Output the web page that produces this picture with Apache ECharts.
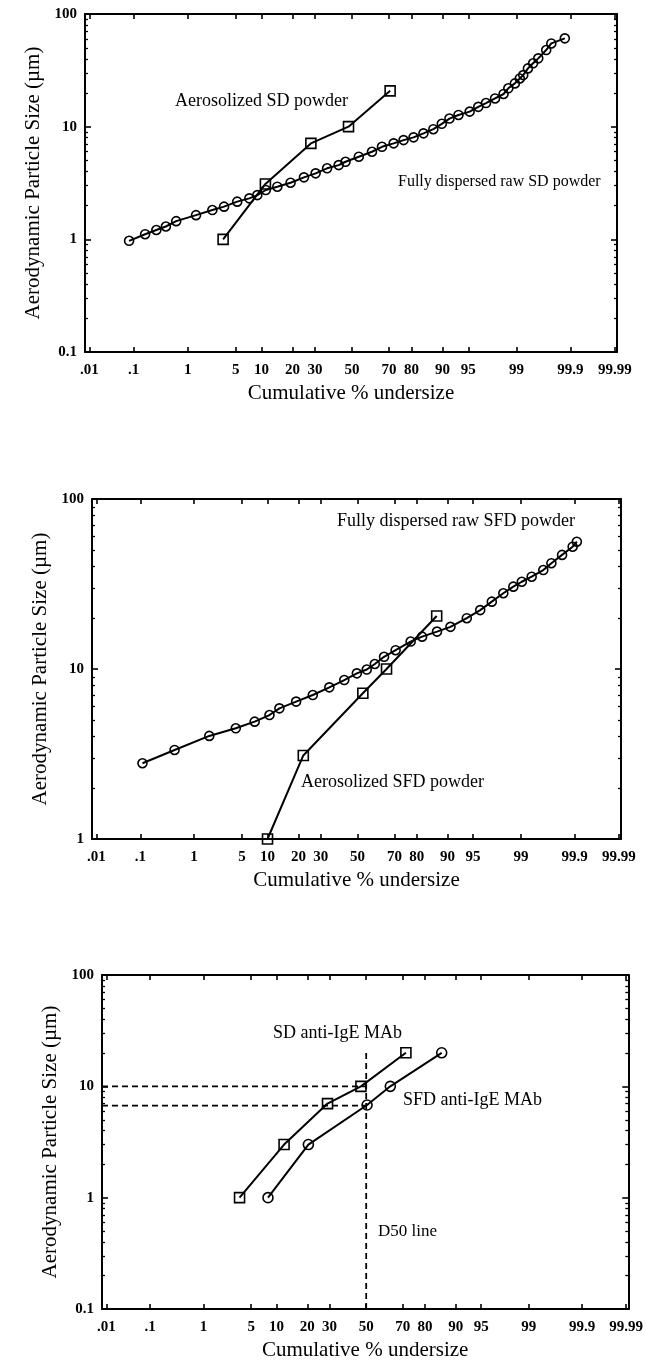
<!DOCTYPE html>
<html><head><meta charset="utf-8">
<script src="https://cdn.jsdelivr.net/npm/echarts@6/dist/echarts.min.js"></script>
<style>html,body{margin:0;padding:0;background:#fff}#c{width:646px;height:1365px}</style>
</head><body><div id="c"></div>
<script>
// ---------- DATA ----------
const xTickPercents = [0.01, 0.1, 1, 5, 10, 20, 30, 50, 70, 80, 90, 95, 99, 99.9, 99.99];
const xTickLabels   = ['.01', '.1', '1', '5', '10', '20', '30', '50', '70', '80', '90', '95', '99', '99.9', '99.99'];
const yTicksPanel1 = [0.1, 1, 10, 100];
const yTicksPanel2 = [1, 10, 100];
const yTicksPanel3 = [0.1, 1, 10, 100];
const yTickLabelText = {'0.1': '0.1', '1': '1', '10': '10', '100': '100'};

// Panel 1 (SD powder)
const sdAeroPct  = [3.4, 11, 28, 48, 70.5];
const sdAeroSize = [1.0, 3.1, 7.1, 10, 20.8];
const sdRawPct  = [0.08, 0.17, 0.28, 0.42, 0.64, 1.36, 2.4, 3.5, 5.2, 7.3, 9.0, 11.1, 14.5, 19.2, 24.8, 30.3, 36.2, 42.5, 46.3, 53.8, 61.1, 66.4, 72.2, 76.7, 80.8, 84.4, 87.5, 89.8, 91.6, 93.4, 95.2, 96.3, 97.1, 97.85, 98.4, 98.65, 98.94, 99.12, 99.23, 99.36, 99.48, 99.58, 99.70, 99.76, 99.87];
const sdRawSize = [0.97, 1.11, 1.21, 1.3, 1.45, 1.64, 1.82, 1.95, 2.16, 2.31, 2.47, 2.74, 2.93, 3.18, 3.55, 3.85, 4.27, 4.56, 4.88, 5.41, 5.99, 6.63, 7.11, 7.6, 8.04, 8.72, 9.5, 10.6, 11.8, 12.7, 13.6, 15.0, 16.2, 17.8, 19.5, 21.9, 24.2, 26.8, 28.7, 32.9, 36.5, 40.4, 47.9, 54.8, 60.8];

// Panel 2 (SFD powder)
const sfdAeroPct  = [10, 22, 53, 66, 87];
const sfdAeroSize = [1.0, 3.1, 7.2, 10, 20.5];
const sfdRawPct  = [0.11, 0.46, 1.74, 4.15, 7.15, 10.5, 13.3, 19.1, 26.2, 34.4, 42.5, 49.6, 55.2, 59.7, 64.7, 70.6, 77.5, 82.1, 87.1, 90.7, 94.0, 95.96, 97.2, 98.1, 98.67, 99.03, 99.34, 99.59, 99.71, 99.82, 99.89, 99.91];
const sfdRawSize = [2.79, 3.34, 4.04, 4.48, 4.9, 5.36, 5.87, 6.43, 7.03, 7.8, 8.61, 9.43, 9.93, 10.7, 11.8, 12.9, 14.5, 15.5, 16.6, 17.7, 19.9, 22.2, 24.9, 27.9, 30.5, 32.6, 34.9, 38.2, 41.9, 46.9, 52.4, 56.1];

// Panel 3 (anti-IgE MAb)
const sdMabPct  = [3.5, 12, 29, 47, 71.5];
const sdMabSize = [1, 3, 7, 10, 20];
const sfdMabPct  = [8, 20.4, 50.5, 63.5, 86];
const sfdMabSize = [1, 3, 6.8, 10, 20];
const d50Pct = 50;
const d50SdSize = 10;
const d50SfdSize = 6.7;
const d50LineTop = 20;
const d50LineBottom = 0.1;

// ---------- SCALES ----------
function probit(p) {
  const a=[-3.969683028665376e+01,2.209460984245205e+02,-2.759285104469687e+02,1.383577518672690e+02,-3.066479806614716e+01,2.506628277459239e+00];
  const b=[-5.447609879822406e+01,1.615858368580409e+02,-1.556989798598866e+02,6.680131188771972e+01,-1.328068155288572e+01];
  const c=[-7.784894002430293e-03,-3.223964580411365e-01,-2.400758277161838e+00,-2.549732539343734e+00,4.374664141464968e+00,2.938163982698783e+00];
  const d=[7.784695709041462e-03,3.224671290700398e-01,2.445134137142996e+00,3.754408661907416e+00];
  const pl=0.02425, ph=1-pl; let q, r;
  if (p < pl) { q=Math.sqrt(-2*Math.log(p)); return (((((c[0]*q+c[1])*q+c[2])*q+c[3])*q+c[4])*q+c[5])/((((d[0]*q+d[1])*q+d[2])*q+d[3])*q+1); }
  if (p <= ph) { q=p-0.5; r=q*q; return (((((a[0]*r+a[1])*r+a[2])*r+a[3])*r+a[4])*r+a[5])*q/(((((b[0]*r+b[1])*r+b[2])*r+b[3])*r+b[4])*r+1); }
  q=Math.sqrt(-2*Math.log(1-p)); return -(((((c[0]*q+c[1])*q+c[2])*q+c[3])*q+c[4])*q+c[5])/((((d[0]*q+d[1])*q+d[2])*q+d[3])*q+1);
}
const px = pct => probit(pct / 100);
const ly = v => Math.log10(v);
const pts = (P, S) => P.map((p, i) => [px(p), ly(S[i])]);

const FONT = '"Liberation Serif","Times New Roman",serif';
const X_MIN = -3.78, X_MAX = 3.75;
const grids = [
  {left: 85, top: 14, width: 532, height: 338},
  {left: 92, top: 499, width: 529, height: 340},
  {left: 102, top: 975, width: 530, height: 334}
];
const yTickSets = [yTicksPanel1, yTicksPanel2, yTicksPanel3];

const xTickVals = xTickPercents.map(px);
function xLabel(v) {
  let best = 0, bd = 1e9;
  xTickVals.forEach((t, i) => { const dd = Math.abs(t - v); if (dd < bd) { bd = dd; best = i; } });
  return xTickLabels[best];
}
function yLabel(v) {
  const val = Math.pow(10, Math.round(v));
  return yTickLabelText[String(+val.toPrecision(3))] || '';
}

const xAxes = [], yAxes = [];
grids.forEach((g, i) => {
  const xc = {type: 'value', gridIndex: i, min: X_MIN, max: X_MAX, splitLine: {show: false},
    axisLine: {onZero: false, lineStyle: {color: '#000', width: 2}},
    axisTick: {inside: true, length: 5, customValues: xTickVals, lineStyle: {color: '#000', width: 1.6}}};
  xAxes.push(Object.assign({}, xc, {position: 'bottom', name: 'Cumulative % undersize', nameLocation: 'middle', nameGap: 31,
    nameTextStyle: {fontFamily: FONT, fontSize: 21, color: '#000'},
    axisLabel: {customValues: xTickVals, formatter: xLabel, margin: 11, fontFamily: FONT, fontSize: 15, fontWeight: 'bold', color: '#000'}}));
  xAxes.push(Object.assign({}, xc, {position: 'top', axisLabel: {show: false}}));

  const ticks = yTickSets[i];
  const yMin = ly(ticks[0]), yMax = ly(ticks[ticks.length - 1]);
  const major = ticks.map(ly);
  const minor = [];
  for (let dd = yMin; dd < yMax - 0.5; dd++) for (let k = 2; k <= 9; k++) minor.push(dd + Math.log10(k));
  const yc = {type: 'value', gridIndex: i, min: yMin, max: yMax, splitLine: {show: false}};
  const majorLine = {onZero: false, lineStyle: {color: '#000', width: 2}};
  yAxes.push(Object.assign({}, yc, {position: 'left', axisLine: majorLine,
    axisTick: {inside: true, length: 6, customValues: major, lineStyle: {color: '#000', width: 1.6}},
    axisLabel: {customValues: major, formatter: yLabel, margin: 8, fontFamily: FONT, fontSize: 15, fontWeight: 'bold', color: '#000'},
    name: 'Aerodynamic Particle Size (\u00b5m)', nameLocation: 'middle', nameGap: 40, nameRotate: 90,
    nameTextStyle: {fontFamily: FONT, fontSize: 21, color: '#000'}}));
  yAxes.push(Object.assign({}, yc, {position: 'left', axisLine: {show: false, onZero: false}, axisLabel: {show: false},
    axisTick: {inside: true, length: 3, customValues: minor, lineStyle: {color: '#000', width: 1.3}}}));
  yAxes.push(Object.assign({}, yc, {position: 'right', axisLine: majorLine, axisLabel: {show: false},
    axisTick: {inside: true, length: 6, customValues: major, lineStyle: {color: '#000', width: 1.6}}}));
  yAxes.push(Object.assign({}, yc, {position: 'right', axisLine: {show: false, onZero: false}, axisLabel: {show: false},
    axisTick: {inside: true, length: 3, customValues: minor, lineStyle: {color: '#000', width: 1.3}}}));
});

function lineSeries(panel, data, symbol, size) {
  return {type: 'line', xAxisIndex: 2 * panel, yAxisIndex: 4 * panel, data: data,
    symbol: symbol, symbolSize: size, showAllSymbol: true, silent: true, animation: false,
    lineStyle: {color: '#000', width: 2},
    itemStyle: {color: 'rgba(255,255,255,0)', borderColor: '#000', borderWidth: 1.6}};
}
function dashSeries(panel, data) {
  return {type: 'line', xAxisIndex: 2 * panel, yAxisIndex: 4 * panel, data: data, symbol: 'none',
    silent: true, animation: false, lineStyle: {color: '#000', width: 1.8, type: [6, 4]}};
}

const series = [
  lineSeries(0, pts(sdRawPct, sdRawSize), 'circle', 9),
  lineSeries(0, pts(sdAeroPct, sdAeroSize), 'rect', 10),
  lineSeries(1, pts(sfdRawPct, sfdRawSize), 'circle', 9),
  lineSeries(1, pts(sfdAeroPct, sfdAeroSize), 'rect', 10),
  lineSeries(2, pts(sdMabPct, sdMabSize), 'rect', 10),
  lineSeries(2, pts(sfdMabPct, sfdMabSize), 'circle', 10),
  dashSeries(2, [[X_MIN, ly(d50SdSize)], [px(d50Pct), ly(d50SdSize)]]),
  dashSeries(2, [[X_MIN, ly(d50SfdSize)], [px(d50Pct), ly(d50SfdSize)]]),
  dashSeries(2, [[px(d50Pct), ly(d50LineBottom)], [px(d50Pct), ly(d50LineTop)]])
];

function txt(s, x, y, size) {
  return {type: 'text', x: x, y: y, silent: true,
    style: {text: s, fontFamily: FONT, fontSize: size, fill: '#000', textAlign: 'left', textVerticalAlign: 'middle'}};
}

const chart = echarts.init(document.getElementById('c'), null, {renderer: 'canvas'});
chart.setOption({
  animation: false,
  backgroundColor: '#fff',
  grid: grids.map(g => Object.assign({containLabel: false}, g)),
  xAxis: xAxes,
  yAxis: yAxes,
  series: series,
  graphic: [
    txt('Aerosolized SD powder', 175, 101, 18),
    txt('Fully dispersed raw SD powder', 398, 182, 16),
    txt('Fully dispersed raw SFD powder', 337, 521, 18),
    txt('Aerosolized SFD powder', 301, 782, 18),
    txt('SD anti-IgE MAb', 273, 1033, 18),
    txt('SFD anti-IgE MAb', 403, 1100, 18),
    txt('D50 line', 378, 1232, 17)
  ]
});
</script></body></html>
